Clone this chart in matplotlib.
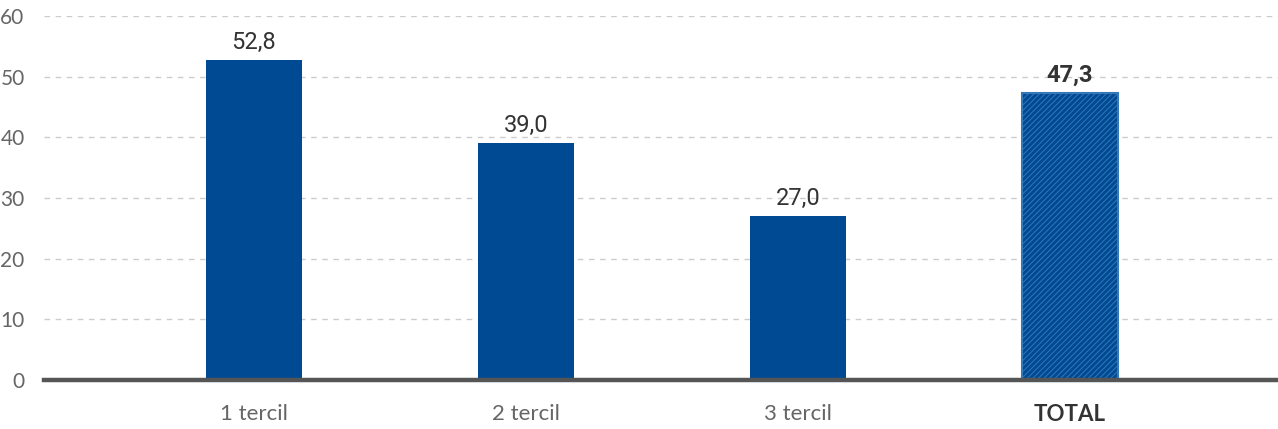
import matplotlib.pyplot as plt

# Data
categories = ['1 tercil', '2 tercil', '3 tercil', 'TOTAL']
values = [52.8, 39.0, 27.0, 47.3]
labels = ['52,8', '39,0', '27,0', '47,3']

plt.rcParams['hatch.linewidth'] = 0.7

fig = plt.figure(figsize=(12.78, 4.29), dpi=100)
ax = fig.add_axes([44 / 1278, 1 - 380 / 429, 1 - 44 / 1278, 364 / 429])

x = range(len(categories))
bars = ax.bar(x[:3], values[:3], width=0.353, color='#004a94', zorder=3)
total = ax.bar([3], [values[3]], width=0.353, color='#004a94',
               edgecolor='#3478b8', linewidth=1.5, hatch='//////', zorder=3)

# value labels
for i, (v, lab) in enumerate(zip(values, labels)):
    ax.text(i, v + 1.0, lab, ha='center', va='bottom', fontsize=17,
            family=['Liberation Sans Narrow', 'Roboto'], color='#333333',
            fontweight='bold' if i == 3 else 'normal')

ax.set_xlim(-0.772, 3.765)
ax.set_ylim(0, 60)
ax.set_yticks(range(0, 61, 10))
ax.yaxis.grid(True, linestyle=(0, (4, 4)), color='#cccccc', linewidth=1, zorder=0)
ax.set_axisbelow(True)

for s in ['top', 'right', 'left']:
    ax.spines[s].set_visible(False)
ax.spines['bottom'].set_color('#555555')
ax.spines['bottom'].set_linewidth(3.2)
ax.spines['bottom'].set_zorder(4)

ax.tick_params(axis='both', length=0, labelcolor='#666666')
ax.tick_params(axis='y', pad=14, labelsize=15)
ax.tick_params(axis='x', pad=17, labelsize=16)
ax.set_xticks(list(x))
ax.set_xticklabels(categories, family='Lato')
for t in ax.get_yticklabels():
    t.set_family('Lato')
tl = ax.get_xticklabels()[3]
tl.set_fontweight('bold')
tl.set_color('#333333')

fig.savefig('out.png', dpi=100)
